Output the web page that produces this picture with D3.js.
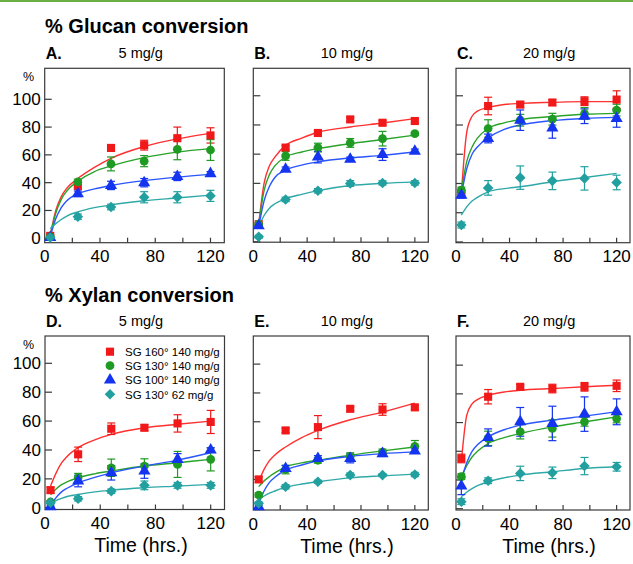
<!DOCTYPE html>
<html>
<head>
<meta charset="utf-8">
<script src="https://cdn.jsdelivr.net/npm/d3@7"></script>
<style>
  body { margin: 0; background: #fff; }
  svg { display: block; font-family: "Liberation Sans", Arial, Helvetica, sans-serif; }
</style>
</head>
<body>
<div id="chart"></div>
<script>
const times = [4, 24, 48, 72, 96, 120];
const fitTimes = [4, 8, 12, 16, 24, 36, 48, 72, 96, 120];

const seriesNames = ["SG 160° 140 mg/g", "SG 130° 140 mg/g", "SG 100° 140 mg/g", "SG 130° 62 mg/g"];
const markerColors = ["#f01818", "#1f9a22", "#1434f0", "#22a0a0"];
const lineColors = ["#ff3030", "#2aa32a", "#2a55ff", "#30a8a8"];

const xTicks = [0, 40, 80, 120];
const xMinorTicks = [20, 40, 60, 80, 100, 120];
const yTicks = [0, 20, 40, 60, 80, 100];

// A. glucan, 5 mg/g
const glucan5Values = [
  [1.7, 38, 65, 67, 72, 74],
  [1, 40.5, 53.5, 55.5, 64, 63.5],
  [0.5, 32, 38, 40, 44.5, 46.5],
  [0.5, 15.5, 22.5, 29.5, 29.5, 30.5]
];
const glucan5Errors = [
  [1, 3, 2, 3.5, 8, 5.5],
  [1, 2, 5, 4, 7.5, 7.5],
  [0.5, 2, 3, 3, 3, 1.5],
  [0.5, 2, 2, 4, 4, 4]
];
const glucan5Fits = [
  [2, 20, 30, 36, 43, 51, 57.5, 66, 71.5, 75.5],
  [2, 18, 28, 34, 41, 48, 52, 58, 62, 64.5],
  [1, 14, 22, 27, 32, 35.5, 38, 41.5, 44, 46],
  [7, 10.5, 13.5, 16, 19, 22, 24, 27, 29, 31]
];

// B. glucan, 10 mg/g
const glucan10Values = [
  [12, 64.5, 74.5, 83.8, 81.5, 82.7],
  [12, 58.8, 64.5, 67.7, 70.6, 74],
  [11, 49.7, 58, 56.5, 59.7, 62],
  [3.4, 29, 34.9, 39.9, 40.3, 40.3]
];
const glucan10Errors = [
  [1, 1.5, 1.5, 1.5, 1.5, 1.5],
  [1, 3, 3, 3, 5, 1],
  [1, 1.5, 4, 1.5, 4, 1.5],
  [1, 1.5, 1.5, 2, 1.5, 1.5]
];
const glucan10Fits = [
  [12, 40, 52, 58, 66, 71, 75, 78.6, 81.3, 84.3],
  [12, 35, 46, 52, 58, 61.5, 63.8, 67.2, 70, 73],
  [10, 28, 38, 44, 49, 52.5, 54.7, 57.4, 59.2, 61.5],
  [10, 18, 23, 26, 29.5, 32.5, 35, 38.5, 40, 41]
];

// C. glucan, 20 mg/g
const glucan20Values = [
  [33.2, 93, 94, 95.4, 96.3, 97.4],
  [35.5, 77.6, 83.3, 84, 87.9, 90.2],
  [32, 70.8, 83.3, 78, 86, 84.5],
  [11.6, 37, 44, 41.8, 43.5, 40.7]
];
const glucan20Errors = [
  [2, 6, 2, 2, 3, 6],
  [2, 6, 4, 4, 4, 4],
  [2, 3, 7, 7, 5, 6],
  [2, 5, 8, 6, 8, 5]
];
const glucan20Fits = [
  [33, 75, 86, 89.5, 92, 94, 94.8, 95.5, 96, 96],
  [35, 55, 65, 71, 77.6, 81.5, 83.8, 85.8, 87.4, 88],
  [32, 50, 60, 65, 71.2, 77, 80, 83, 84.5, 85.2],
  [18.4, 24, 28, 30.5, 34.3, 36.5, 37.8, 41.2, 44.1, 46.9]
];

// D. xylan, 5 mg/g
const xylan5Values = [
  [12.2, 37, 54.7, 55.4, 58.4, 59.4],
  [4, 20.8, 27.7, 28.9, 30, 33.5],
  [0.7, 18.5, 24.2, 25.4, 33.5, 40],
  [3.5, 6.2, 11.5, 15.5, 15.5, 15.5]
];
const xylan5Errors = [
  [2, 5, 4, 2, 6, 8],
  [1, 3, 6, 5, 9, 8],
  [0.5, 4, 5, 5, 4, 1.5],
  [1, 1.5, 1.5, 3, 2, 2]
];
const xylan5Fits = [
  [15, 24, 31, 35.5, 41.6, 47, 50.8, 55.4, 57.8, 60],
  [9, 13, 16, 18, 20.8, 23.5, 25.4, 28.9, 31.2, 33.5],
  [1.2, 7, 11, 13.5, 17.3, 21, 24.2, 28.9, 33, 38.1],
  [3, 5, 6.5, 7.8, 9.2, 11, 12.2, 13.9, 15, 16.2]
];

// E. xylan, 10 mg/g
const xylan10Values = [
  [20, 54, 56.3, 69, 68.5, 70],
  [9.2, 26.9, 33.3, 36, 39, 43],
  [1.1, 27.6, 34.5, 34.5, 37.9, 39.8],
  [3.4, 14.9, 18.4, 23, 23, 23.4]
];
const xylan10Errors = [
  [2, 1.5, 8, 1.5, 4, 1.5],
  [1.5, 3, 2, 2.5, 2, 4],
  [1, 2, 2, 3, 2, 1.5],
  [1, 1.5, 1, 1.5, 1, 1.5]
];
const xylan10Fits = [
  [18.4, 27, 33, 37, 42.5, 49, 54, 61.4, 66.7, 72.9],
  [15, 19, 22, 24.5, 28.7, 31.5, 33.3, 36.8, 39.8, 42.5],
  [3, 12, 18, 21.5, 26.4, 30, 32.9, 36, 37.9, 39.1],
  [5.7, 8.5, 10.5, 12, 14.5, 16.8, 18.4, 21.1, 22.5, 23.7]
];

// F. xylan, 20 mg/g
const xylan20Values = [
  [35, 78, 84.9, 83.7, 84.9, 85.6],
  [22.3, 49, 53.6, 55.9, 60.5, 62.8],
  [15.8, 49.6, 60.5, 59.4, 65.9, 67.5],
  [4.9, 19.5, 24.6, 25, 29.7, 29.2]
];
const xylan20Errors = [
  [3, 5, 1.5, 3, 3, 4],
  [2, 5, 5, 6, 3, 3],
  [6, 6, 10, 12, 12, 9],
  [2, 2, 5, 4, 6, 3]
];
const xylan20Fits = [
  [32.7, 65, 73, 76, 79, 81.3, 82.5, 83.7, 84.9, 86],
  [22.3, 30, 36, 40, 45.4, 49.5, 52.4, 57, 60.5, 64],
  [20, 32, 40, 44.5, 50, 55, 58.2, 61.7, 64.5, 67.5],
  [8.3, 11.5, 14, 16, 18.8, 21.5, 23.4, 25.7, 28, 29.2]
];

const width = 633, height = 564;

const svg = d3.select("#chart")
  .append("svg")
  .attr("width", width)
  .attr("height", height);

// green rule at the top
svg.append("line")
  .attr("x1", 0).attr("x2", width)
  .attr("y1", 1).attr("y2", 1)
  .attr("stroke", "#6cb043")
  .attr("stroke-width", 2);

// section titles
svg.append("text").attr("x", 45).attr("y", 33)
  .style("font-size", "20px").style("font-weight", "bold")
  .text("% Glucan conversion");
svg.append("text").attr("x", 45).attr("y", 302)
  .style("font-size", "20px").style("font-weight", "bold")
  .text("% Xylan conversion");

const symbols = [d3.symbolSquare, d3.symbolCircle, d3.symbolTriangle, d3.symbolSquare];
const symbolSizes = [66, 60, 64, 56];
const symbolRotate = [0, 0, 0, 45];

// panel frames in pixels and the value window each one shows
const panels = [
  { letter: "A.", dose: "5 mg/g", x0: 44.7, x1: 224.3, y0: 68.3, y1: 242.7, yDom: [-3.2, 122.3], yLabels: true, xTitle: false,
    values: glucan5Values, errors: glucan5Errors, fits: glucan5Fits },
  { letter: "B.", dose: "10 mg/g", x0: 253.3, x1: 428.3, y0: 68.3, y1: 242.2, yDom: [-0.3, 118.8], yLabels: false, xTitle: false,
    values: glucan10Values, errors: glucan10Errors, fits: glucan10Fits },
  { letter: "C.", dose: "20 mg/g", x0: 456, x1: 630, y0: 68.3, y1: 242.7, yDom: [-0.5, 118.8], yLabels: false, xTitle: false,
    values: glucan20Values, errors: glucan20Errors, fits: glucan20Fits },
  { letter: "D.", dose: "5 mg/g", x0: 45, x1: 224.5, y0: 336, y1: 509.5, yDom: [-1.2, 118.9], yLabels: true, xTitle: true,
    values: xylan5Values, errors: xylan5Errors, fits: xylan5Fits, legend: true },
  { letter: "E.", dose: "10 mg/g", x0: 253.3, x1: 428.3, y0: 336, y1: 510, yDom: [-1.2, 119.5], yLabels: false, xTitle: true,
    values: xylan10Values, errors: xylan10Errors, fits: xylan10Fits },
  { letter: "F.", dose: "20 mg/g", x0: 456, x1: 630, y0: 336, y1: 510, yDom: [-0.9, 120.3], yLabels: false, xTitle: true,
    values: xylan20Values, errors: xylan20Errors, fits: xylan20Fits }
];

panels.forEach(p => {
  const x = d3.scaleLinear().domain([0, 130]).range([p.x0, p.x1]);
  const y = d3.scaleLinear().domain(p.yDom).range([p.y1, p.y0]);
  const w = p.x1 - p.x0;
  const cx = p.x0 + 0.535 * w;

  // panel letter and dose
  svg.append("text").attr("x", p.x0 + 1).attr("y", p.y0 - 9)
    .style("font-size", "16px").style("font-weight", "bold")
    .text(p.letter);
  svg.append("text").attr("x", cx).attr("y", p.y0 - 10)
    .attr("text-anchor", "middle")
    .style("font-size", "14.5px")
    .text(p.dose);

  const g = svg.append("g");

  // frame
  g.append("rect")
    .attr("x", p.x0).attr("y", p.y0)
    .attr("width", w).attr("height", p.y1 - p.y0)
    .attr("fill", "none")
    .attr("stroke", "#3a3a3a")
    .attr("stroke-width", 1.2);

  // inward ticks
  g.selectAll("ytick").data(yTicks).join("line")
    .attr("x1", p.x0).attr("x2", p.x0 + 7)
    .attr("y1", d => y(d)).attr("y2", d => y(d))
    .attr("stroke", "#3a3a3a").attr("stroke-width", 1.2);
  g.selectAll("xtick").data(xMinorTicks).join("line")
    .attr("x1", d => x(d)).attr("x2", d => x(d))
    .attr("y1", p.y1).attr("y2", p.y1 - 5)
    .attr("stroke", "#3a3a3a").attr("stroke-width", 1.2);

  // tick labels
  g.selectAll("xlab").data(xTicks).join("text")
    .attr("x", d => x(d)).attr("y", p.y1 + 19.5)
    .attr("text-anchor", "middle")
    .style("font-size", "17px")
    .text(d => d);

  if (p.yLabels) {
    g.selectAll("ylab").data(yTicks).join("text")
      .attr("x", p.x0 - 4).attr("y", d => y(d) + 6)
      .attr("text-anchor", "end")
      .style("font-size", "17px")
      .text(d => d);
    g.append("text").attr("x", 23).attr("y", p.y0 + 12.5)
      .style("font-size", "12.5px")
      .text("%");
  }

  if (p.xTitle) {
    g.append("text").attr("x", cx).attr("y", p.y1 + 42.5)
      .attr("text-anchor", "middle")
      .style("font-size", "19.5px")
      .text("Time (hrs.)");
  }

  // fitted curves
  const line = d3.line()
    .x((d, i) => x(fitTimes[i]))
    .y(d => y(d))
    .curve(d3.curveMonotoneX);

  p.fits.forEach((f, s) => {
    g.append("path")
      .attr("d", line(f))
      .attr("fill", "none")
      .attr("stroke", lineColors[s])
      .attr("stroke-width", 1.4);
  });

  // error bars
  p.values.forEach((vals, s) => {
    const pts = vals.map((v, i) => ({ t: times[i], v: v, e: p.errors[s][i] }));
    const eb = g.append("g").attr("stroke", markerColors[s]).attr("stroke-width", 1.2);
    eb.selectAll("line.v").data(pts).join("line")
      .attr("x1", d => x(d.t)).attr("x2", d => x(d.t))
      .attr("y1", d => y(d.v - d.e)).attr("y2", d => y(d.v + d.e));
    eb.selectAll("line.top").data(pts).join("line")
      .attr("x1", d => x(d.t) - 4).attr("x2", d => x(d.t) + 4)
      .attr("y1", d => y(d.v + d.e)).attr("y2", d => y(d.v + d.e));
    eb.selectAll("line.bot").data(pts).join("line")
      .attr("x1", d => x(d.t) - 4).attr("x2", d => x(d.t) + 4)
      .attr("y1", d => y(d.v - d.e)).attr("y2", d => y(d.v - d.e));
  });

  // markers
  p.values.forEach((vals, s) => {
    const sym = d3.symbol().type(symbols[s]).size(symbolSizes[s]);
    g.selectAll("mark").data(vals).join("path")
      .attr("d", sym)
      .attr("transform", (d, i) => `translate(${x(times[i])},${y(d)}) rotate(${symbolRotate[s]})`)
      .attr("fill", markerColors[s]);
  });

  // legend
  if (p.legend) {
    const rows = [351.7, 365.7, 380, 394.3];
    seriesNames.forEach((name, s) => {
      const sym = d3.symbol().type(symbols[s]).size(symbolSizes[s]);
      g.append("path")
        .attr("d", sym)
        .attr("transform", `translate(110,${rows[s]}) rotate(${symbolRotate[s]})`)
        .attr("fill", markerColors[s]);
      g.append("text")
        .attr("x", 125).attr("y", rows[s] + 4.2)
        .style("font-size", "11.5px")
        .text(name);
    });
  }
});
</script>
</body>
</html>
